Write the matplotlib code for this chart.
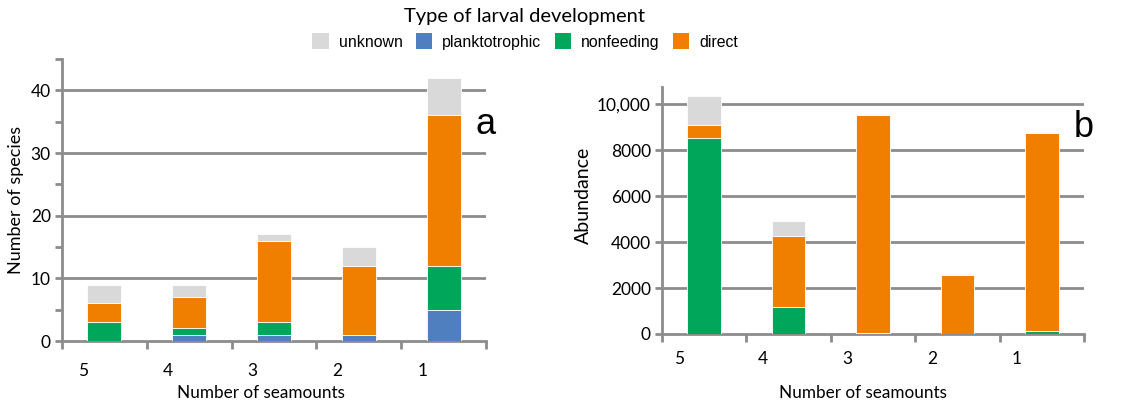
import matplotlib
matplotlib.use("Agg")
import matplotlib.pyplot as plt
from matplotlib.patches import Patch
import numpy as np

categories = ["5", "4", "3", "2", "1"]
series_names = ["planktotrophic", "nonfeeding", "direct", "unknown"]
colors = {"unknown": "#D9D9D9", "planktotrophic": "#4F7FBE",
          "nonfeeding": "#00A65A", "direct": "#F07F00"}

# panel a: number of species
species_plankto = [0, 1, 1, 1, 5]
species_nonfeed = [3, 1, 2, 0, 7]
species_direct = [3, 5, 13, 11, 24]
species_unknown = [3, 2, 1, 3, 6]

# panel b: abundance
abund_plankto = [20, 10, 10, 10, 10]
abund_nonfeed = [8530, 1150, 20, 10, 120]
abund_direct = [550, 3100, 9520, 2560, 8620]
abund_unknown = [1250, 650, 30, 20, 50]

W, H = 1146, 404
fig = plt.figure(figsize=(W / 100, H / 100), dpi=100)
GRAY = "#8C8C8C"
FONT = "Lato"


def ax_px(l, t, r, b):
    return fig.add_axes([l / W, (H - b) / H, (r - l) / W, (b - t) / H])


def draw(ax, data, ymax, major, minor, fmt, labx, laby):
    x = np.arange(len(categories))
    bottom = np.zeros(len(categories))
    for name, vals in zip(series_names, data):
        ax.bar(x, vals, width=0.4, bottom=bottom, color=colors[name],
               edgecolor="white", linewidth=0.6, zorder=3)
        bottom += np.array(vals)
    ax.set_xlim(-0.5, len(categories) - 0.5)
    ax.set_ylim(0, ymax)
    for s in ["top", "right"]:
        ax.spines[s].set_visible(False)
    for s in ["left", "bottom"]:
        ax.spines[s].set_color(GRAY)
        ax.spines[s].set_linewidth(2)
    ax.set_yticks(major)
    ax.set_yticklabels([fmt(v) for v in major], fontsize=12.5, family=FONT)
    if minor is not None:
        ax.set_yticks(minor, minor=True)
    ax.tick_params(axis="y", which="both", length=5, width=2, color=GRAY, pad=3)
    for v in major[1:]:
        ax.axhline(v, color=GRAY, linewidth=2, zorder=1)
    ax.set_xticks(x + labx)
    ax.set_xticklabels(categories, fontsize=12.5, family=FONT)
    ax.set_xticks(np.arange(len(categories) + 1) - 0.5, minor=True)
    ax.tick_params(axis="x", which="major", length=0, pad=laby)
    ax.tick_params(axis="x", which="minor", length=6, width=2, color=GRAY)


axa = ax_px(62, 59, 486, 341)
draw(axa, [species_plankto, species_nonfeed, species_direct, species_unknown],
     45, [0, 10, 20, 30, 40], [5, 15, 25, 35, 45],
     lambda v: f"{v:d}", -0.25, 16)
axa.set_xlabel("Number of seamounts", fontsize=12.3, family=FONT)
axa.xaxis.set_label_coords(0.47, -0.156)
axa.set_ylabel("Number of species", fontsize=13, family=FONT)
axa.yaxis.set_label_coords(-0.09, 0.5)
axa.text(1.0, 0.766, "a", transform=axa.transAxes, fontsize=26,
         family="Liberation Sans", ha="center", va="center")

axb = ax_px(662, 87, 1084, 334)
draw(axb, [abund_plankto, abund_nonfeed, abund_direct, abund_unknown],
     10750, [0, 2000, 4000, 6000, 8000, 10000], None,
     lambda v: f"{v:,d}" if v >= 10000 else f"{v:d}", -0.3, 12)
axb.set_xlabel("Number of seamounts", fontsize=12.3, family=FONT)
axb.xaxis.set_label_coords(0.475, -0.207)
axb.set_ylabel("Abundance", fontsize=14, family=FONT)
axb.yaxis.set_label_coords(-0.165, 0.56)
axb.text(1.0, 0.835, "b", transform=axb.transAxes, fontsize=26,
         family="Liberation Sans", ha="center", va="center")

order = ["unknown", "planktotrophic", "nonfeeding", "direct"]
handles = [Patch(facecolor=colors[n], edgecolor="none", label=n) for n in order]
leg = fig.legend(handles=handles, loc="upper center", bbox_to_anchor=(525 / W, 1.015),
                 ncol=4, frameon=False, title="Type of larval development",
                 prop={"family": "Liberation Sans", "size": 11.4},
                 handlelength=1.05, handleheight=1.2, handletextpad=0.6,
                 columnspacing=0.85)
leg.get_title().set_fontsize(14.5)
leg.get_title().set_family(FONT)

fig.savefig("out.png", dpi=100)
